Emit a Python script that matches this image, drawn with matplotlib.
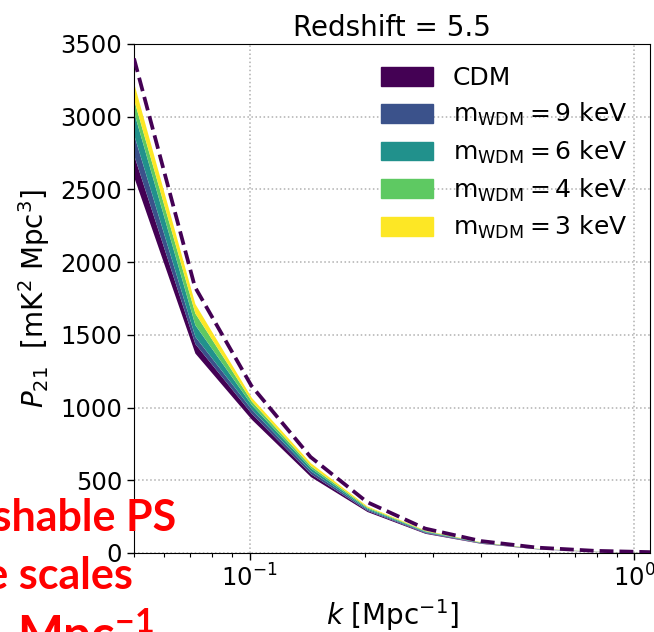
import matplotlib
matplotlib.use("Agg")
import matplotlib.pyplot as plt
from matplotlib.patches import Patch
import numpy as np

# k bins (Mpc^-1)
k = [0.05, 0.072, 0.101, 0.144, 0.202, 0.286, 0.40, 0.56, 0.79, 1.1]

# band edges, bottom to top (CDM lower ... 3 keV upper), mK^2 Mpc^3
edge0 = [2580, 1375, 920, 525, 285, 135, 66, 28, 10.0, 4.0]
edge1 = [2730, 1440, 960, 545, 293, 140, 69, 29, 11.0, 4.2]
edge2 = [2870, 1490, 990, 565, 301, 145, 71, 30, 11.5, 4.4]
edge3 = [3025, 1570, 1020, 585, 309, 150, 73, 31, 12.0, 4.6]
edge4 = [3110, 1650, 1045, 600, 316, 154, 75, 32, 12.5, 4.8]
edge5 = [3225, 1715, 1070, 620, 323, 158, 77, 33, 13.0, 5.0]

# dashed reference curve
p_dashed = [3400, 1830, 1150, 660, 350, 168, 82, 37, 15, 6]

labels = ["CDM",
          r"m$_{\rm WDM}$$ = 9$ keV",
          r"m$_{\rm WDM}$$ = 6$ keV",
          r"m$_{\rm WDM}$$ = 4$ keV",
          r"m$_{\rm WDM}$$ = 3$ keV"]
colors = ["#440154", "#3b528b", "#21918c", "#5ec962", "#fde725"]

plt.rcParams["font.size"] = 18
plt.rcParams["mathtext.default"] = "regular"

fig = plt.figure(figsize=(6.54, 6.32), dpi=100)
ax = fig.add_axes([0.2049, 0.125, 0.789, 0.8054])

edges = [edge0, edge1, edge2, edge3, edge4, edge5]
for i in range(5):
    ax.fill_between(k, edges[i], edges[i + 1], color=colors[i], lw=0, zorder=2)

ax.plot(k, p_dashed, ls="--", color=colors[0], lw=2.7, zorder=3)

ax.set_xscale("log")
ax.set_xlim(k[0], k[-1])
ax.set_ylim(0, 3500)
ax.set_yticks(np.arange(0, 3501, 500))
ax.grid(True, which="major", ls=":", color="#b0b0b0", lw=1.1)
ax.tick_params(which="major", length=5, width=1, labelsize=17.5)
ax.tick_params(which="minor", length=3, width=0.8)

ax.set_title("Redshift = 5.5", fontsize=20, pad=6)
ax.set_xlabel(r"$\it{k}$ [Mpc$^{-1}$]", fontsize=20, labelpad=4)
ax.set_ylabel(r"$\it{P}_{21}$  [mK$^2$ Mpc$^3$]", fontsize=20, labelpad=6)

handles = [Patch(facecolor=c, edgecolor=c) for c in colors]
ax.legend(handles, labels, loc="upper right", frameon=False,
          handlelength=2.1, handleheight=0.78, handletextpad=0.8,
          labelspacing=0.42, fontsize=18, borderaxespad=0.5)

# overlaid slide text, cut off at the left edge
red_kw = dict(color="#ff0000", fontweight="bold",
              family=["Lato", "DejaVu Sans"], ha="right", zorder=10)
fig.text(176 / 654, 1 - 530 / 632, "Indistinguishable PS", fontsize=31, **red_kw)
fig.text(133 / 654, 1 - 588 / 632, "at large scales", fontsize=31, **red_kw)
fig.text(154 / 654, 1 - 652 / 632, r"k > 0.1    Mpc$^{-1}$", fontsize=35, **red_kw)

fig.savefig("out.png", dpi=100)
